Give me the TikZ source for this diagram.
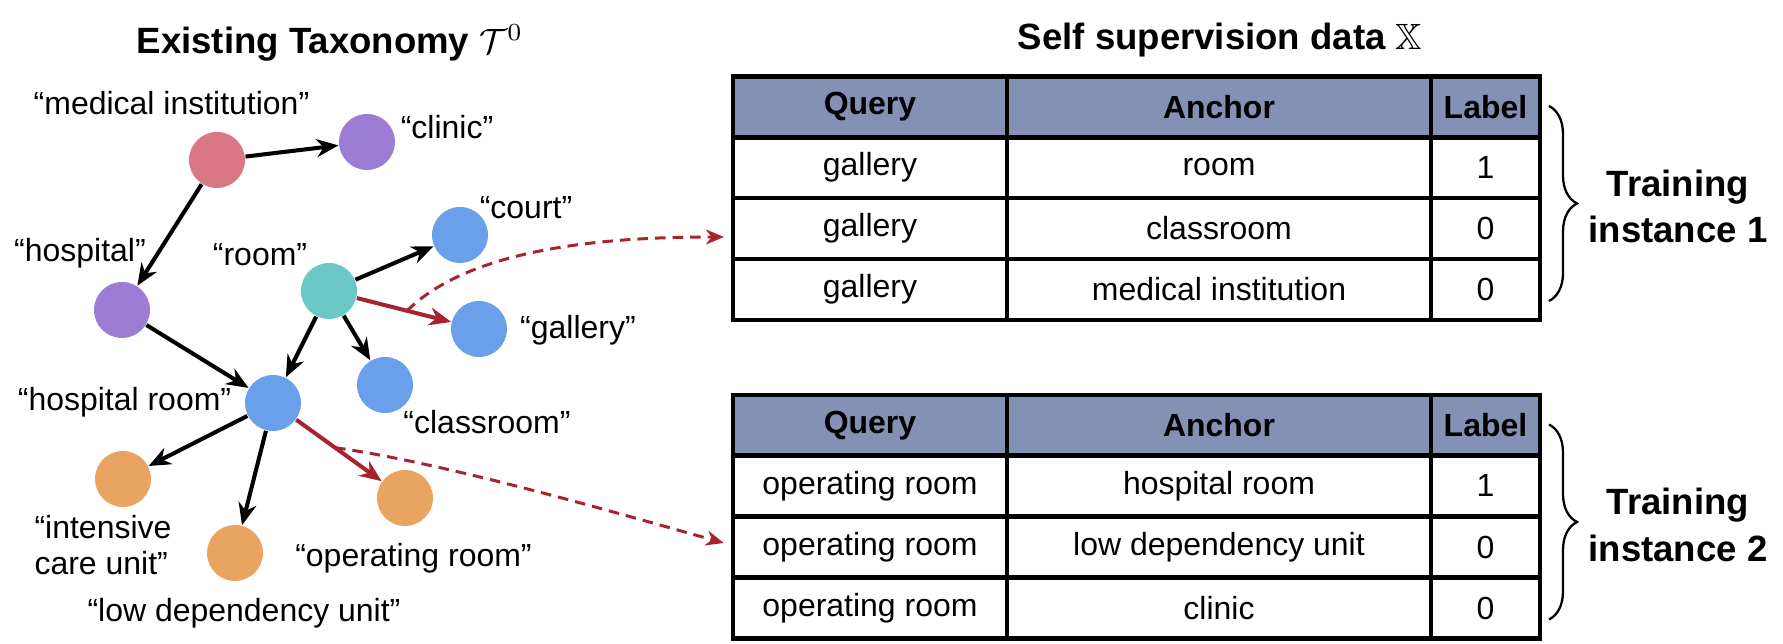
\documentclass[tikz,border=0pt]{standalone}
\usepackage{amsmath,amssymb}
\usepackage{fontspec}
\setmainfont{Liberation Sans}
\usetikzlibrary{arrows.meta,positioning,calc,decorations.pathreplacing}
\definecolor{conceptred}{RGB}{217,119,133}
\definecolor{conceptpurple}{RGB}{155,125,213}
\definecolor{conceptteal}{RGB}{108,200,198}
\definecolor{conceptblue}{RGB}{106,160,234}
\definecolor{conceptorange}{RGB}{234,164,98}
\definecolor{pairred}{RGB}{167,35,45}
\definecolor{headfill}{RGB}{130,145,180}
\tikzset{
  concept/.style={circle,draw=none,minimum size=0.56cm,inner sep=0pt},
  clabel/.style={inner sep=0pt,font=\fontsize{9.1}{10.2}\selectfont},
  ttl/.style={inner sep=0pt,font=\fontsize{10.4}{13.3}\selectfont\bfseries},
  isa/.style={-{Stealth[length=2.2mm,width=1.8mm]},line width=1.15pt},
  pairedge/.style={isa,draw=pairred},
  sample/.style={-{Stealth[length=1.8mm,width=1.5mm]},draw=pairred,line width=0.85pt,
                 dash pattern=on 3pt off 2pt},
  cell/.style={draw,line width=1.2pt,minimum height=0.61cm,inner sep=0pt,
               font=\fontsize{9.1}{10.2}\selectfont},
  qcell/.style={cell,minimum width=2.74cm},
  acell/.style={cell,minimum width=4.24cm},
  lcell/.style={cell,minimum width=1.09cm},
  head/.style={fill=headfill,font=\fontsize{9.1}{10.2}\selectfont\bfseries},
  instbrace/.style={decorate,decoration={brace,amplitude=0.28cm},line width=0.65pt},
}

\begin{document}
\begin{tikzpicture}
  \useasboundingbox (0,0) rectangle (17.83,6.44);
  % titles
  \node[ttl] (ttax)  at (3.30,6.01)  {Existing Taxonomy $\mathcal{T}^0$};
  \node[ttl] (tdata) at (12.20,6.04) {Self supervision data $\mathbb{X}$};
  % the taxonomy
  \node[concept,fill=conceptred]    (med)      at (2.17,4.84) {};
  \node[concept,fill=conceptpurple] (clinic)   at (3.67,5.02) {};
  \node[concept,fill=conceptpurple] (hosp)     at (1.22,3.34) {};
  \node[concept,fill=conceptteal]   (room)     at (3.29,3.53) {};
  \node[concept,fill=conceptblue]   (court)    at (4.60,4.09) {};
  \node[concept,fill=conceptblue]   (gallery)  at (4.79,3.15) {};
  \node[concept,fill=conceptblue]   (hroom)    at (2.73,2.41) {};
  \node[concept,fill=conceptblue]   (classrm)  at (3.85,2.59) {};
  \node[concept,fill=conceptorange] (icu)      at (1.23,1.65) {};
  \node[concept,fill=conceptorange] (ldu)      at (2.35,0.91) {};
  \node[concept,fill=conceptorange] (oroom)    at (4.05,1.46) {};
  \node[clabel] (lmed)     at (1.715,5.41) {“medical institution”};
  \node[clabel] (lclinic)  at (4.47,5.17)  {“clinic”};
  \node[clabel] (lcourt)   at (5.26,4.36)  {“court”};
  \node[clabel] (lhosp)    at (0.80,3.91)  {“hospital”};
  \node[clabel] (lroom)    at (2.60,3.89)  {“room”};
  \node[clabel] (lgallery) at (5.78,3.14)  {“gallery”};
  \node[clabel] (lhroom)   at (1.245,2.42) {“hospital room”};
  \node[clabel] (lclassrm) at (4.87,2.22)  {“classroom”};
  \node[clabel,align=left] (licu) at (1.03,0.99) {“intensive\\care unit”};
  \node[clabel] (lldu)     at (2.44,0.31)  {“low dependency unit”};
  \node[clabel] (loroom)   at (4.135,0.86) {“operating room”};
  \draw[isa] (med) -- (clinic);
  \draw[isa] (med) -- (hosp);
  \draw[isa] (hosp) -- (hroom);
  \draw[isa] (room) -- (court);
  \draw[isa] (room) -- (hroom);
  \draw[isa] (room) -- (classrm);
  \draw[isa] (hroom) -- (icu);
  \draw[isa] (hroom) -- (ldu);
  \draw[pairedge] (room) -- (gallery);
  \draw[pairedge] (hroom) -- (oroom);
  % training instance 1
  \node[qcell,head] (t1q0) at (8.70,5.37)   {Query};
  \node[acell,head] (t1a0) at (12.19,5.37)  {Anchor};
  \node[lcell,head] (t1l0) at (14.855,5.37) {Label};
  \node[qcell] (t1q1) at (8.70,4.765)   {gallery};
  \node[acell] (t1a1) at (12.19,4.765)  {room};
  \node[lcell] (t1l1) at (14.855,4.765) {1};
  \node[qcell] (t1q2) at (8.70,4.155)   {gallery};
  \node[acell] (t1a2) at (12.19,4.155)  {classroom};
  \node[lcell] (t1l2) at (14.855,4.155) {0};
  \node[qcell] (t1q3) at (8.70,3.545)   {gallery};
  \node[acell] (t1a3) at (12.19,3.545)  {medical institution};
  \node[lcell] (t1l3) at (14.855,3.545) {0};
  \draw[instbrace] (15.49,5.38) -- (15.49,3.43);
  \node[ttl,align=center] (inst1) at (16.78,4.375) {Training\\instance 1};
  % training instance 2
  \begin{scope}[yshift=-3.185cm]
    \node[qcell,head] (t2q0) at (8.70,5.37)   {Query};
    \node[acell,head] (t2a0) at (12.19,5.37)  {Anchor};
    \node[lcell,head] (t2l0) at (14.855,5.37) {Label};
    \node[qcell] (t2q1) at (8.70,4.765)   {operating room};
    \node[acell] (t2a1) at (12.19,4.765)  {hospital room};
    \node[lcell] (t2l1) at (14.855,4.765) {1};
    \node[qcell] (t2q2) at (8.70,4.155)   {operating room};
    \node[acell] (t2a2) at (12.19,4.155)  {low dependency unit};
    \node[lcell] (t2l2) at (14.855,4.155) {0};
    \node[qcell] (t2q3) at (8.70,3.545)   {operating room};
    \node[acell] (t2a3) at (12.19,3.545)  {clinic};
    \node[lcell] (t2l3) at (14.855,3.545) {0};
    \draw[instbrace] (15.49,5.38) -- (15.49,3.43);
    \node[ttl,align=center] (inst2) at (16.78,4.375) {Training\\instance 2};
  \end{scope}
  % sampled pairs
  \coordinate (s1) at ($(room)!0.52!(gallery)$);
  \coordinate (s2) at ($(hroom)!0.47!(oroom)$);
  \draw[sample] (s1) .. controls (4.70,3.95) and (6.00,4.07) .. ([xshift=-0.07cm,yshift=-0.085cm]t1q2.west);
  \draw[sample] (s2) .. controls (4.50,1.80) and (6.20,1.30) .. ([xshift=-0.07cm,yshift=0.04cm]t2q2.west);
\end{tikzpicture}
\end{document}
